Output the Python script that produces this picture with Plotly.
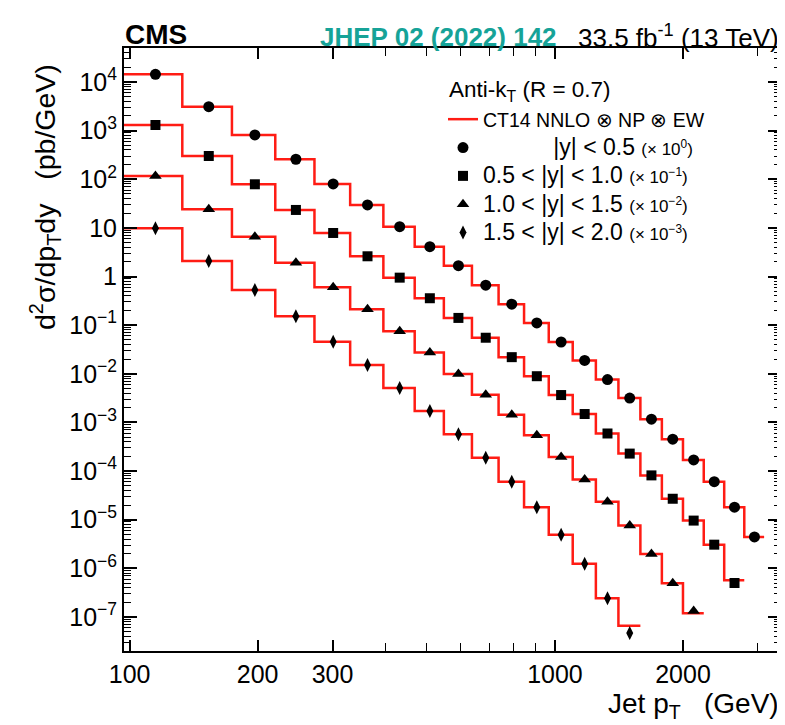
import numpy as np
import plotly.graph_objects as go

# ---------------- data ----------------
# pT bin edges (GeV)
edges = [97, 133, 174, 220, 272, 330, 395, 468, 548, 638, 737, 846, 967,
         1101, 1248, 1410, 1588, 1784, 2000, 2238, 2500, 2787, 3103]

# measured cross sections as plotted (already multiplied by the legend factor)
data_y0 = [14400, 3105, 815, 258, 80, 29.6, 10.6, 4.12, 1.67, 0.665, 0.27,
           0.111, 0.0451, 0.0188, 0.00763, 0.00318, 0.00117, 4.53e-4,
           1.70e-4, 6.05e-5, 1.81e-5, 4.42e-6]
data_y1 = [1306, 301, 78.9, 23.4, 7.87, 2.61, 0.949, 0.358, 0.141, 0.0552,
           0.0220, 0.00893, 0.00366, 0.00149, 5.93e-4, 2.29e-4, 8.16e-5,
           2.70e-5, 9.6e-6, 3.07e-6, 5.0e-7]
data_y2 = [117, 24.2, 6.61, 1.93, 0.603, 0.213, 0.0751, 0.0275, 0.00995,
           0.00373, 0.00144, 5.47e-4, 1.96e-4, 6.75e-5, 2.33e-5, 7.59e-6,
           1.97e-6, 4.97e-7, 1.33e-7]
data_y3 = [9.84, 2.09, 0.531, 0.153, 0.0459, 0.0152, 0.00513, 0.00173,
           5.74e-4, 1.89e-4, 6.05e-5, 1.81e-5, 4.93e-6, 1.24e-6, 2.43e-7,
           4.7e-8]

# theory (CT14 NNLO x NP x EW), same scaling
theory_y0 = [14400, 3105, 815, 258, 80, 29.6, 10.6, 4.12, 1.67, 0.665, 0.27,
             0.111, 0.0451, 0.0188, 0.00763, 0.00318, 0.00117, 4.53e-4,
             1.70e-4, 6.05e-5, 1.81e-5, 4.42e-6]
theory_y1 = [1306, 301, 78.9, 23.4, 7.87, 2.61, 0.949, 0.358, 0.141, 0.0552,
             0.0220, 0.00893, 0.00366, 0.00149, 5.93e-4, 2.29e-4, 8.16e-5,
             2.70e-5, 9.6e-6, 3.07e-6, 5.7e-7]
theory_y2 = [117, 24.2, 6.61, 1.93, 0.603, 0.213, 0.0751, 0.0275, 0.00995,
             0.00373, 0.00144, 5.47e-4, 1.96e-4, 6.75e-5, 2.33e-5, 7.59e-6,
             1.97e-6, 4.97e-7, 1.19e-7]
theory_y3 = [9.84, 2.09, 0.531, 0.153, 0.0459, 0.0152, 0.00513, 0.00173,
             5.74e-4, 1.89e-4, 6.05e-5, 1.81e-5, 4.93e-6, 1.24e-6, 2.43e-7,
             6.6e-8]

legend_labels = [
    "\u00a0" * 11 + "|y| &lt; 0.5",
    "0.5 &lt; |y| &lt; 1.0",
    "1.0 &lt; |y| &lt; 1.5",
    "1.5 &lt; |y| &lt; 2.0",
]
scale_labels = ["0", "−1", "−2", "−3"]

y_tickvals = [1e4, 1e3, 1e2, 10, 1, 1e-1, 1e-2, 1e-3, 1e-4, 1e-5, 1e-6, 1e-7]
y_ticktext = ["10<sup>4</sup>", "10<sup>3</sup>", "10<sup>2</sup>", "10", "1",
              "10<sup>−1</sup>", "10<sup>−2</sup>", "10<sup>−3</sup>",
              "10<sup>−4</sup>", "10<sup>−5</sup>", "10<sup>−6</sup>",
              "10<sup>−7</sup>"]
x_tickvals = [100, 200, 300, 1000, 2000]
x_ticktext = ["100", "200", "300", "1000", "2000"]
x_minor = [400, 500, 600, 700, 800, 900, 3000]

# ---------------- styling ----------------
FONT = "Liberation Sans, Arial, Helvetica, sans-serif"
RED = "rgb(255,28,20)"
symbols = ["circle", "square", "triangle-up", "diamond-tall"]
sizes = [11, 10, 11, 10]

data_sets = [data_y0, data_y1, data_y2, data_y3]
theory_sets = [theory_y0, theory_y1, theory_y2, theory_y3]

# the page body adds an 8 px offset; work in window pixels and subtract it
OFF = 8
W, H = 785 - OFF, 725 - OFF
FX0, FX1, FY0, FY1 = 124, 781, 48, 651          # plot frame in window pixels
L, R, T, B = FX0 - OFF, W - (FX1 - OFF), FY0 - OFF, H - (FY1 - OFF)
pw, ph = W - L - R, H - T - B

XLO, XHI = 97, 3400
YLO, YHI = 2e-8, 5e4
XR = [np.log10(XLO), np.log10(XHI)]
YR = [np.log10(YLO), np.log10(YHI)]

y_minor = [d * 10.0 ** k for k in range(-8, 5) for d in range(2, 10)
           if YLO <= d * 10.0 ** k <= YHI]


def px(xp):
    return (xp - OFF - L) / pw


def py(yp):
    return (H - B - (yp - OFF)) / ph


fig = go.Figure()

# theory step histograms
for i, th in enumerate(theory_sets):
    n = len(th)
    fig.add_trace(go.Scatter(
        x=edges[:n + 1], y=list(th) + [th[-1]],
        mode="lines", line=dict(color=RED, width=2.5, shape="hv"),
        name="CT14 NNLO ⊗ NP ⊗ EW",
        showlegend=(i == 0), hoverinfo="skip",
    ))

# data points at bin centres
for i, ds in enumerate(data_sets):
    n = len(ds)
    centers = [(edges[k] + edges[k + 1]) / 2 for k in range(n)]
    label = (f"<span style='font-size:23px'>{legend_labels[i]} </span>"
             f"<span style='font-size:17px'>(× 10<sup>{scale_labels[i]}</sup>)</span>")
    fig.add_trace(go.Scatter(
        x=centers, y=ds, mode="markers",
        marker=dict(symbol=symbols[i], size=sizes[i], color="black"),
        name=label,
    ))

fig.update_layout(
    width=W, height=H, autosize=False,
    margin=dict(l=L, r=R, t=T, b=B, pad=0),
    paper_bgcolor="white", plot_bgcolor="white",
    font=dict(family=FONT, color="black", size=24),
    showlegend=True,
    legend=dict(
        x=px(443), y=py(100), xanchor="left", yanchor="top",
        bgcolor="rgba(0,0,0,0)", borderwidth=0,
        font=dict(family=FONT, size=19.5, color="black"),
        traceorder="normal", itemwidth=30,
    ),
    xaxis=dict(
        type="log", range=XR, automargin=False, layer="above traces",
        showline=True, linewidth=2, linecolor="black", mirror="ticks",
        ticks="inside", ticklen=11, tickwidth=1.5, tickcolor="black",
        tickmode="array", tickvals=x_tickvals, ticktext=x_ticktext,
        tickfont=dict(family=FONT, size=25),
        minor=dict(ticks="inside", ticklen=8, tickwidth=1.2, tickcolor="black",
                   tickmode="array", tickvals=x_minor, showgrid=False),
        showgrid=False, zeroline=False,
    ),
    yaxis=dict(
        type="log", range=YR, automargin=False, layer="above traces",
        showline=True, linewidth=2, linecolor="black", mirror="ticks",
        ticks="inside", ticklen=13, tickwidth=1.5, tickcolor="black",
        tickmode="array", tickvals=y_tickvals, ticktext=y_ticktext,
        tickfont=dict(family=FONT, size=25),
        minor=dict(ticks="inside", ticklen=7, tickwidth=1.2, tickcolor="black",
                   tickmode="array", tickvals=y_minor, showgrid=False),
        showgrid=False, zeroline=False,
    ),
)

annotations = [
    # header
    dict(text="<b>CMS</b>", x=px(123), y=py(34), xanchor="left", yanchor="middle",
         font=dict(family=FONT, size=28, color="black")),
    dict(text="<b>JHEP 02 (2022) 142</b>", x=px(318), y=py(37), xanchor="left",
         yanchor="middle", font=dict(family=FONT, size=26, color="rgb(22,163,152)")),
    dict(text="33.5 fb<sup>-1</sup> (13 TeV)", x=px(781), y=py(37), xanchor="right",
         yanchor="middle", font=dict(family=FONT, size=26, color="black")),
    # legend header
    dict(text="Anti-k<sub>T</sub> (R = 0.7)", x=px(447), y=py(91), xanchor="left",
         yanchor="middle", font=dict(family=FONT, size=22.5, color="black")),
    # axis titles
    dict(text="d<sup>2</sup>σ/dp<sub>T</sub>dy\u00a0\u00a0\u00a0(pb/GeV)",
         x=px(45), y=py(197), xanchor="center", yanchor="middle", textangle=-90,
         font=dict(family=FONT, size=28.5, color="black")),
    dict(text="Jet p<sub>T</sub>\u00a0\u00a0\u00a0(GeV)", x=px(781), y=py(705),
         xanchor="right", yanchor="middle",
         font=dict(family=FONT, size=28, color="black")),
]
for a in annotations:
    a.update(xref="paper", yref="paper", showarrow=False)
fig.update_layout(annotations=annotations)

fig.write_html("out.html")
